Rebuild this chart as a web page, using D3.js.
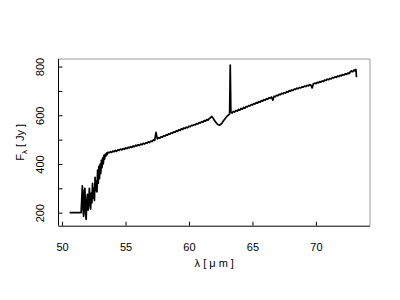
<!DOCTYPE html>
<html><head><meta charset="utf-8">
<script src="https://cdn.jsdelivr.net/npm/d3@7"></script>
<style>body{margin:0;background:#fff}svg{display:block}text{font-family:"Liberation Sans",Arial,sans-serif;fill:#000}</style>
</head><body><svg id="c" width="400" height="300"></svg>
<script>
const xTicks = [50, 55, 60, 65, 70];
const yTicks = [200, 300, 400, 500, 600, 700, 800];
const yTickLabels = [200, 400, 600, 800];
const wavelength = [
50.6,50.8,51.0,51.2,51.4,51.5,51.55,51.6,51.65,51.7,51.75,51.8,51.85,51.9,51.95,
52.0,52.05,52.1,52.15,52.2,52.25,52.3,52.35,52.4,52.45,52.5,52.55,52.6,52.65,52.7,52.75,52.8,52.85,52.9,52.95,
53.0,53.05,53.1,53.15,53.2,53.25,53.3,53.35,53.4,53.45,53.5,53.55,53.6,
53.7,53.8,53.9,54.0,54.1,54.2,54.3,54.4,54.5,54.6,54.7,54.8,54.9,
55.0,55.1,55.2,55.3,55.4,55.5,55.6,55.7,55.8,55.9,
56.0,56.1,56.2,56.3,56.4,56.5,56.6,56.7,56.8,56.9,
57.0,57.1,57.2,57.3,57.4,57.5,57.6,57.7,57.8,57.9,
58.0,58.1,58.2,58.3,58.4,58.5,58.6,58.7,58.8,58.9,
59.0,59.1,59.2,59.3,59.4,59.5,59.6,59.7,59.8,59.9,
60.0,60.1,60.2,60.3,60.4,60.5,60.6,60.7,60.8,60.9,
61.0,61.1,61.2,61.3,61.4,61.5,61.6,61.7,61.8,61.9,
62.0,62.1,62.2,62.3,62.4,62.5,62.6,62.7,62.8,62.9,
63.0,63.1,63.2,63.25,63.3,63.4,63.5,63.6,63.7,63.8,63.9,
64.0,64.1,64.2,64.3,64.4,64.5,64.6,64.7,64.8,64.9,
65.0,65.1,65.2,65.3,65.4,65.5,65.6,65.7,65.8,65.9,
66.0,66.1,66.2,66.3,66.4,66.5,66.6,66.7,66.8,66.9,
67.0,67.1,67.2,67.3,67.4,67.5,67.6,67.7,67.8,67.9,
68.0,68.1,68.2,68.3,68.4,68.5,68.6,68.7,68.8,68.9,
69.0,69.1,69.2,69.3,69.4,69.5,69.6,69.7,69.8,69.9,
70.0,70.1,70.2,70.3,70.4,70.5,70.6,70.7,70.8,70.9,
71.0,71.1,71.2,71.3,71.4,71.5,71.6,71.7,71.8,71.9,
72.0,72.1,72.2,72.3,72.4,72.5,72.6,72.7,72.8,72.9,
73.0,73.1,73.15,73.2
];
const flux = [
200,200,200,200,200,200,255,310,215,185,290,300,200,172,250,
275,210,230,300,260,215,280,240,320,260,300,250,345,290,330,285,375,320,390,340,
400,360,415,385,425,400,435,420,440,432,445,438,448,
446,450,447,453,450,456,452,458,456,461,458,463,460,
466,463,468,466,471,468,474,471,477,474,
479,476,482,479,485,482,487,485,491,488,
494,492,499,497,530,503,508,506,512,510,
516,514,520,518,524,522,528,526,532,530,
536,534,540,538,544,542,548,546,551,549,
555,553,559,557,562,560,566,564,570,568,
574,572,578,576,582,580,587,590,595,588,
579,572,566,561,559,563,568,576,583,590,
596,601,605,806,612,609,616,613,620,617,624,
621,628,625,632,629,636,634,640,638,644,
642,648,646,652,650,656,654,660,658,664,
662,668,666,672,670,675,662,678,676,682,
680,686,684,690,688,693,691,697,695,701,
699,704,702,708,706,711,709,714,712,717,
715,720,718,723,721,726,724,712,729,732,
730,735,733,738,736,741,739,745,743,748,
746,751,749,755,753,758,756,761,759,764,
762,767,765,770,768,773,771,777,782,779,
786,781,788,756
];
const data = wavelength.map((w, i) => ({w, f: flux[i]}));

const svg = d3.select("#c");
const L = 58.5, R = 370, T = 59, B = 225.7;
const x = d3.scaleLinear().domain([49.72, 74.26]).range([L, R]);
const y = d3.scaleLinear().domain([146.6, 831]).range([B, T]);

// data line
svg.append("path").datum(data)
  .attr("fill", "none").attr("stroke", "#000").attr("stroke-width", 1.7)
  .attr("stroke-linejoin", "round")
  .attr("d", d3.line().x(d => x(d.w)).y(d => y(d.f)));

// frame
svg.append("line").attr("x1", L).attr("x2", R).attr("y1", T).attr("y2", T).attr("stroke", "#999");
svg.append("line").attr("x1", R).attr("x2", R).attr("y1", T).attr("y2", B).attr("stroke", "#999");

// axes (ticks inward)
const xAxis = d3.axisBottom(x).tickValues(xTicks).tickSize(-4).tickPadding(18).tickFormat(d3.format("d"));
const gx = svg.append("g").attr("transform", `translate(0,${B})`).call(xAxis);
gx.select(".domain").attr("stroke", "#000").attr("d", `M${L},0.5H${R}`);
gx.selectAll(".tick line").attr("stroke", "#000");
gx.selectAll(".tick text").attr("font-size", 11).attr("font-family", "Liberation Sans, Arial, sans-serif").attr("fill", "#000");

const yAxis = d3.axisLeft(y).tickValues(yTicks).tickSize(-4).tickFormat(d => yTickLabels.includes(d) ? d : "");
const gy = svg.append("g").attr("transform", `translate(${L},0)`).call(yAxis);
gy.select(".domain").attr("stroke", "#000").attr("d", `M0,${T}V${B}`);
gy.selectAll(".tick line").attr("stroke", "#000");
gy.selectAll(".tick text")
  .attr("font-size", 11).attr("font-family", "Liberation Sans, Arial, sans-serif").attr("fill", "#000")
  .attr("x", null).attr("dy", null)
  .attr("text-anchor", "middle")
  .attr("transform", "translate(-15,0) rotate(-90)");

// axis titles
const xl = svg.append("text").attr("x", (L + R) / 2).attr("y", 267).attr("text-anchor", "middle").attr("font-size", 11);
xl.text("λ [ μ m ]");

const yl = svg.append("text").attr("transform", `translate(24,${(T + B) / 2}) rotate(-90)`)
  .attr("text-anchor", "middle").attr("font-size", 11);
yl.append("tspan").text("F");
yl.append("tspan").attr("font-size", 8).attr("dy", 3).text("λ");
yl.append("tspan").attr("dy", -3).text(" [ Jy ]");
</script></body></html>
